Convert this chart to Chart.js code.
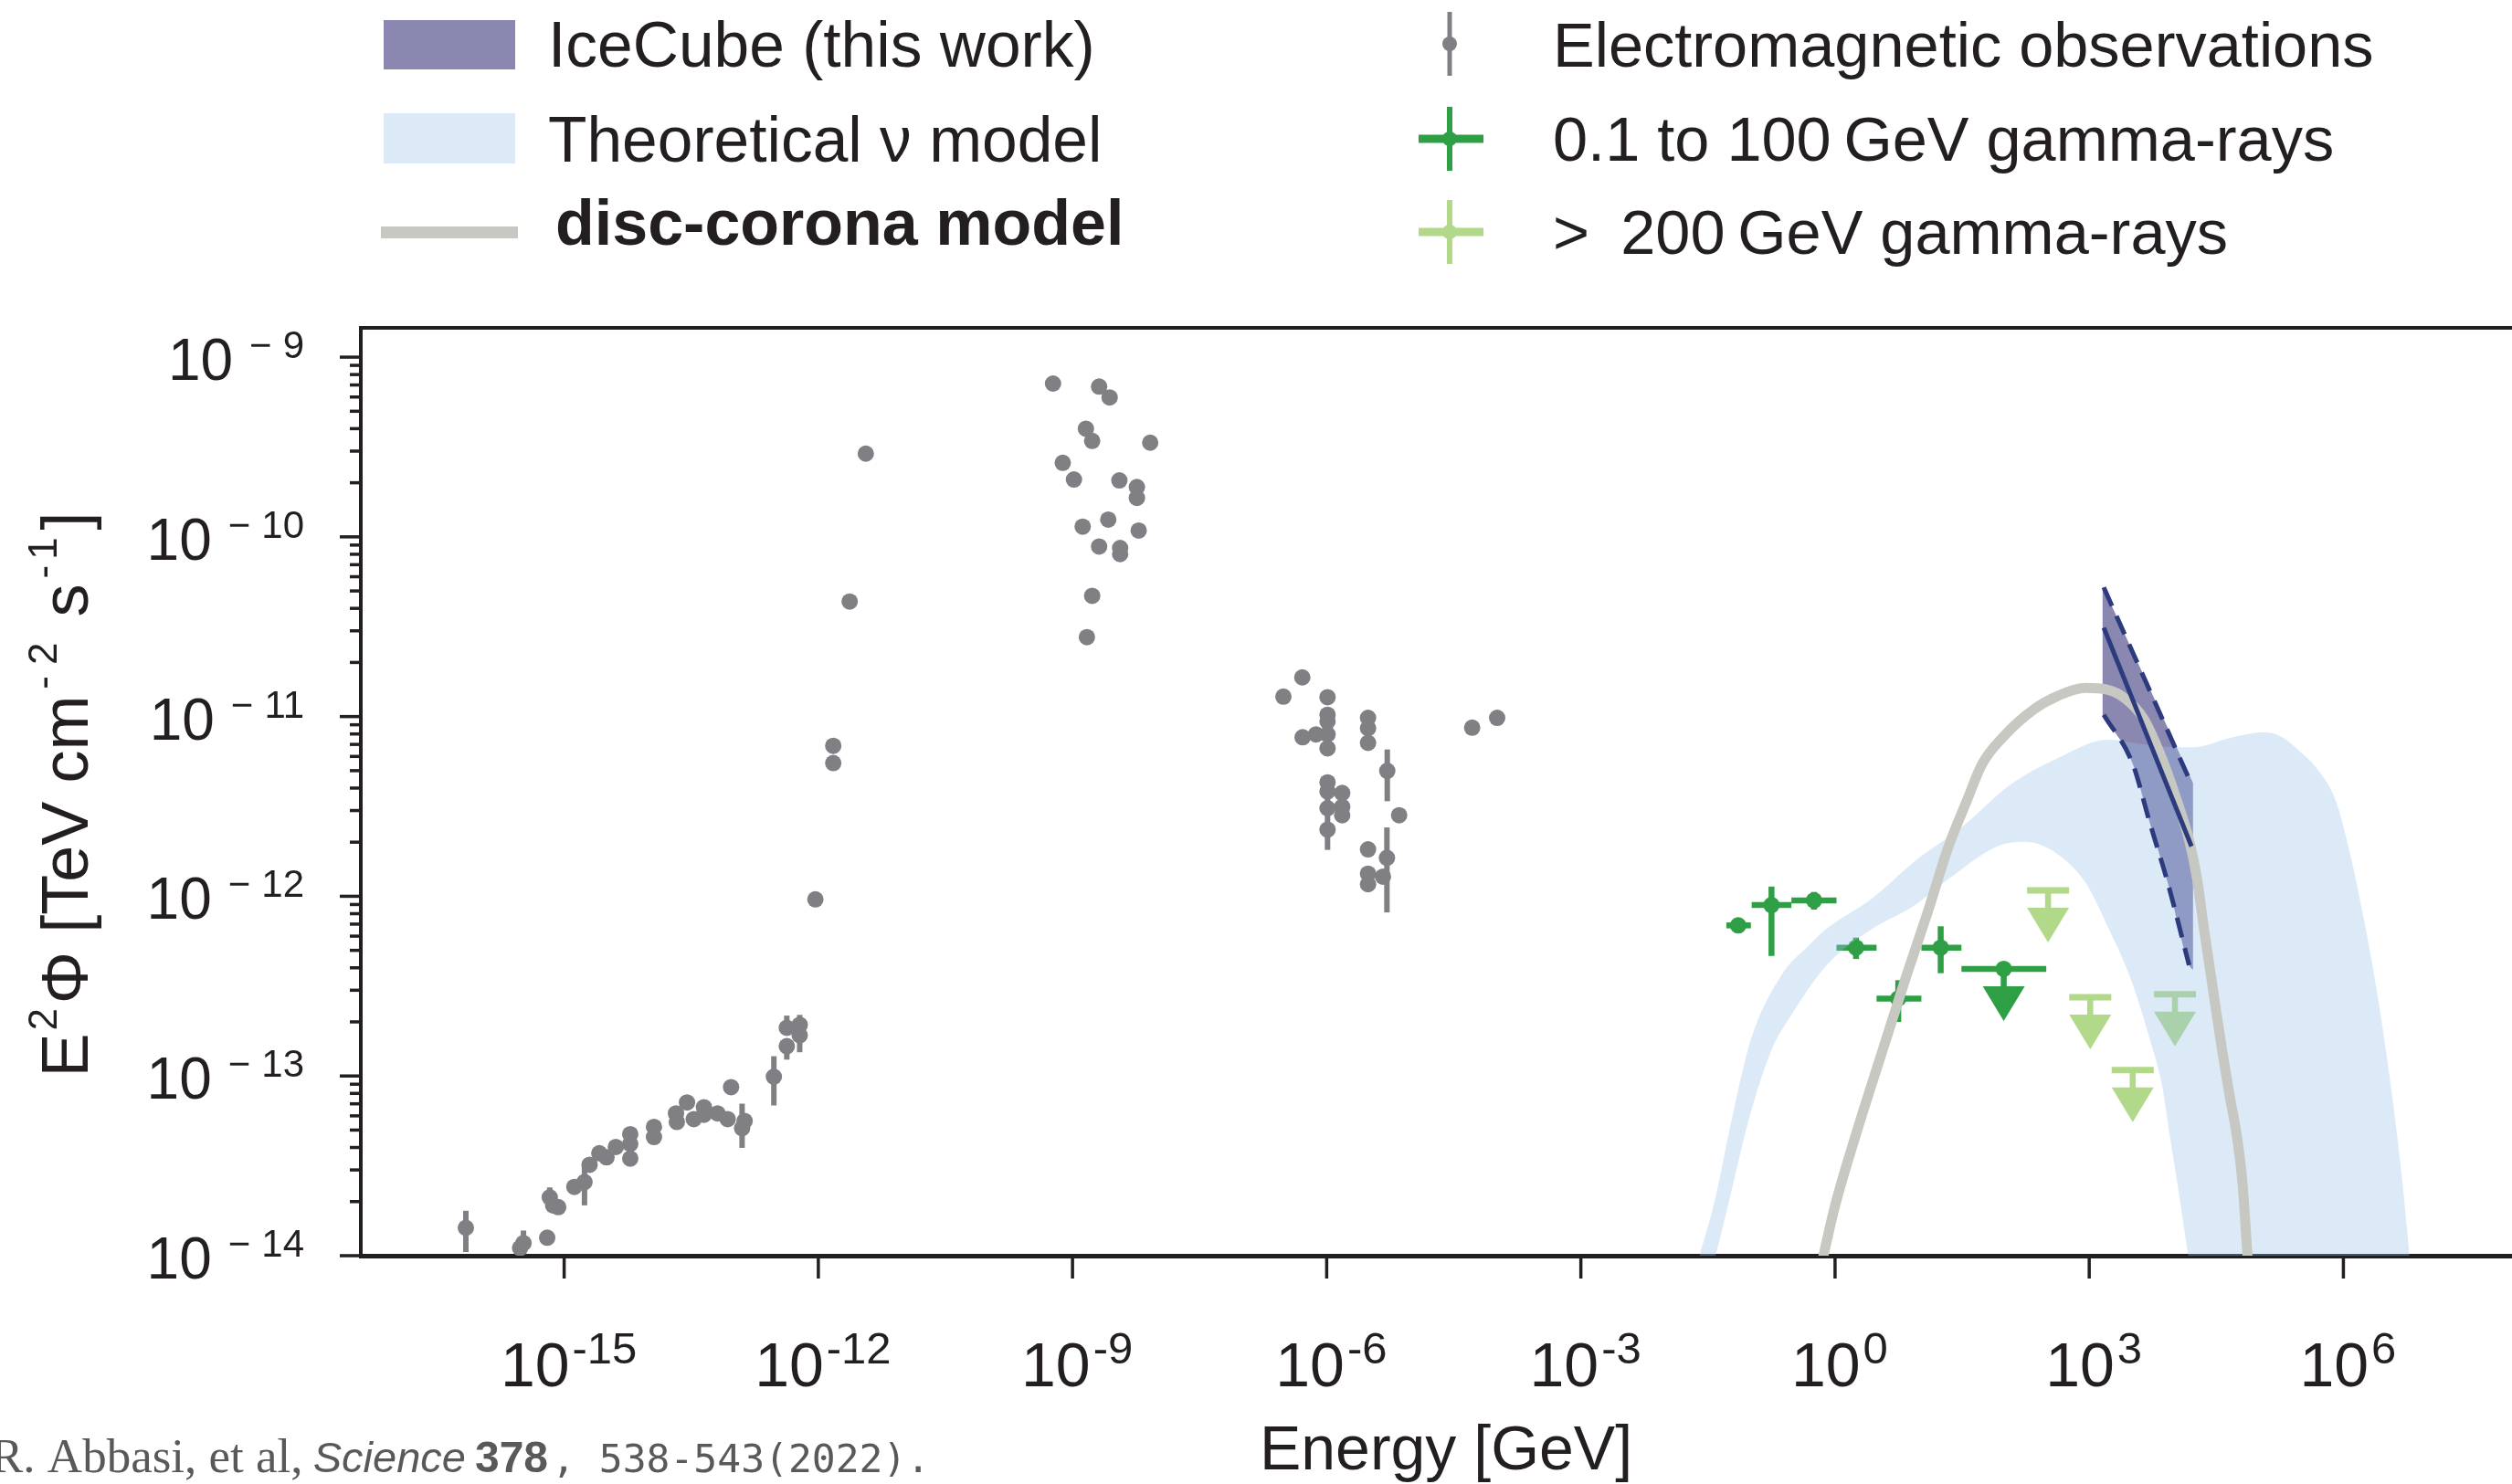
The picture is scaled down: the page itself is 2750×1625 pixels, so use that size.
<!DOCTYPE html>
<html lang="en">
<head>
<meta charset="utf-8">
<title>Energy spectrum – IceCube neutrinos and electromagnetic data</title>
<script src="https://cdn.jsdelivr.net/npm/chart.js@4.4.1/dist/chart.umd.min.js"></script>
<style>
  html, body { margin: 0; padding: 0; background: #ffffff; overflow: hidden; }
  #frame { position: relative; width: 2750px; height: 1625px; }
  canvas { display: block; }
</style>
</head>
<body>
<div id="frame"><canvas id="sed" width="2750" height="1625"></canvas></div>
<script>
// All values are log10: energy in GeV, E^2 Phi in TeV cm^-2 s^-1.

// Electromagnetic observations (radio to X-ray); error bounds are null where no bar is drawn
const emLogE = [-16.16, -15.48, -15.52, -15.20, -15.17, -15.13, -15.07, -14.88, -14.76, -14.70,
  -14.585, -14.50, -14.39, -14.22, -14.22, -14.22, -13.94, -13.94, -13.68, -13.67,
  -13.55, -13.47, -13.35, -13.35, -13.19, -13.07, -13.03, -12.90, -12.87, -12.525,
  -12.372, -12.372, -12.22, -12.22, -12.035, -11.824, -11.824, -11.63, -11.44,
  -9.23, -8.686, -8.562, -8.842, -8.768, -8.083, -9.115, -8.983, -8.447, -8.24,
  -8.24, -8.88, -8.578, -8.219, -8.686, -8.438, -8.438, -8.768, -8.83,
  -6.288, -6.511, -5.99, -5.99, -5.99, -6.284, -6.126, -5.99, -5.99, -5.512,
  -5.512, -5.512, -5.285, -5.145, -5.99, -5.99, -5.817, -5.99, -5.817, -5.817,
  -5.99, -5.512, -5.289, -5.512, -5.336, -5.512, -4.283, -3.988];
const emLogF = [-13.845, -13.93, -13.957, -13.90, -13.675, -13.72, -13.73, -13.617, -13.59, -13.494,
  -13.43, -13.453, -13.395, -13.324, -13.378, -13.46, -13.283, -13.34, -13.208, -13.256,
  -13.147, -13.24, -13.174, -13.216, -13.208, -13.24, -13.062, -13.29, -13.25, -13.004,
  -12.732, -12.834, -12.715, -12.773, -12.017, -11.163, -11.259, -10.36, -9.537,
  -9.147, -9.164, -9.224, -9.398, -9.466, -9.476, -9.588, -9.681, -9.686, -9.723,
  -9.783, -9.943, -9.904, -9.965, -10.054, -10.062, -10.096, -10.328, -10.558,
  -10.782, -10.889, -10.892, -10.99, -11.027, -11.115, -11.099, -11.099, -11.177, -11.007,
  -11.065, -11.146, -11.302, -11.549, -11.366, -11.417, -11.425, -11.51, -11.502, -11.549,
  -11.629, -11.739, -11.786, -11.874, -11.891, -11.933, -11.062, -11.007];
const emErrLo = [-13.98, -13.99, null, null, -13.73, null, null, null, -13.72, null,
  null, null, null, null, null, null, null, null, null, null,
  null, null, null, null, null, null, null, -13.40, null, -13.164,
  -12.77, -12.909, -12.74, -12.868, null, null, null, null, null,
  null, null, null, null, null, null, null, null, null, null,
  null, null, null, null, null, null, null, null, null,
  null, null, null, null, null, null, null, null, null, null,
  null, null, -11.471, null, null, null, null, null, null, null,
  -11.742, null, -12.09, null, null, null, null, null];
const emErrHi = [-13.75, -13.86, null, null, -13.62, null, null, null, -13.505, null,
  null, null, null, null, null, null, null, null, null, null,
  null, null, null, null, null, null, null, -13.154, null, -12.89,
  -12.664, -12.80, -12.66, -12.80, null, null, null, null, null,
  null, null, null, null, null, null, null, null, null, null,
  null, null, null, null, null, null, null, null, null,
  null, null, null, null, null, null, null, null, null, null,
  null, null, -11.183, null, null, null, null, null, null, null,
  -11.40, null, -11.617, null, null, null, null, null];

// 0.1 to 100 GeV gamma-rays: measured bins
const fermiLogE   = [-1.143, -0.75, -0.248, 0.248, 0.746, 1.247];
const fermiLogF   = [-12.162, -12.049, -12.023, -12.286, -12.569, -12.286];
const fermiLogElo = [-1.283, -0.984, -0.515, 0.017, 0.49, 1.019];
const fermiLogEhi = [-0.993, -0.515, 0.017, 0.49, 1.019, 1.492];
const fermiLogFlo = [null, -12.332, -12.074, -12.349, -12.699, -12.428];
const fermiLogFhi = [null, -11.946, -11.976, -12.23, -12.467, -12.167];
// 0.1 to 100 GeV gamma-rays: upper-limit bin
const fermiUlLogE   = [1.991];
const fermiUlLogF   = [-12.404];
const fermiUlLogElo = [1.492];
const fermiUlLogEhi = [2.493];

// > 200 GeV gamma-rays: upper limits
const tevUlLogE = [2.514, 3.012, 3.513, 4.012];
const tevUlLogF = [-11.967, -12.562, -12.967, -12.545];

// IceCube best fit and 68% contour
const iceBestLogE  = [3.172, 4.207];
const iceBestLogF  = [-10.506, -11.722];
const iceUpperLogE = [3.172, 4.197];
const iceUpperLogF = [-10.282, -11.366];
const iceLowerLogE = [3.172, 3.514, 3.712, 3.927, 4.179];
const iceLowerLogF = [-10.99, -11.264, -11.586, -11.925, -12.383];
const iceBandTopLogE = [3.155, 4.226];
const iceBandTopLogF = [-10.27, -11.37];
const iceBandBotLogE = [3.155, 3.514, 3.712, 3.927, 4.179, 4.226];
const iceBandBotLogF = [-10.99, -11.264, -11.586, -11.925, -12.383, -12.41];

// Theoretical neutrino model band
const nuTopLogE = [-1.60, -1.423, -1.225, -0.999, -0.633, -0.30, -0.097, 0.442, 0.981, 1.484,
  2.059, 2.634, 3.209, 3.783, 4.215, 4.718, 5.077, 5.287, 5.50, 5.681,
  5.907, 6.076, 6.245, 6.414, 6.584, 6.696, 6.78];
const nuTopLogF = [-14.0, -13.70, -13.254, -12.806, -12.44, -12.27, -12.18, -12.01, -11.79, -11.62,
  -11.383, -11.231, -11.129, -11.163, -11.171, -11.112, -11.087, -11.118, -11.20, -11.286,
  -11.464, -11.756, -12.136, -12.583, -13.142, -13.589, -14.0];
const nuBotLogE = [-1.60, -1.41, -1.253, -0.999, -0.746, -0.528, -0.097, 0.442, 0.909, 1.377,
  1.915, 2.239, 2.598, 2.957, 3.245, 3.496, 3.711, 3.856, 3.945, 4.074,
  4.17, 4.30, 6.78];
const nuBotLogF = [-14.3, -14.0, -13.70, -13.21, -12.851, -12.67, -12.383, -12.18, -12.06, -11.891,
  -11.722, -11.697, -11.756, -11.925, -12.196, -12.467, -12.789, -13.043, -13.314, -13.70,
  -14.0, -14.3, -14.3];

// Disc-corona model
const coronaLogE = [-0.16, -0.013, 0.237, 0.55, 0.837, 1.089, 1.34, 1.556, 1.735, 1.987,
  2.347, 2.634, 2.957, 3.209, 3.425, 3.64, 3.856, 4.035, 4.179, 4.269,
  4.359, 4.466, 4.574, 4.664, 4.736, 4.808, 4.868, 4.875];
const coronaLogF = [-14.05, -13.746, -13.34, -12.874, -12.45, -12.095, -11.722, -11.468, -11.265, -11.112,
  -10.96, -10.884, -10.841, -10.85, -10.9, -11.01, -11.231, -11.468, -11.688, -11.891,
  -12.196, -12.535, -12.874, -13.128, -13.314, -13.589, -14.0, -14.05];

// Axis ranges and tick decades
const xRangeExp = [-17.40, 7.99];
const yRangeExp = [-14, -8.837];
const xTickExps = [-15, -12, -9, -6, -3, 0, 3, 6];
const yTickExps = [-14, -13, -12, -11, -10, -9];

// ---- Styling ----
const INK = '#231f20';
const EM_GREY = '#808084';
const FERMI_GREEN = '#2e9f45';
const TEV_GREEN = '#b2d98a';
const NAVY = '#2b3b7e';
const ICE_FILL = '#8a87b0';
const NU_FILL = 'rgba(152,193,234,0.34)';
const CORONA = '#c8c8c2';
const SANS = '"Liberation Sans", Arial, Helvetica, sans-serif';

const pts = (le, lf) => le.map((e, i) => ({ x: 10 ** e, y: 10 ** lf[i] }));

const curve = (data, extra) => Object.assign({
  data, showLine: true, pointRadius: 0, borderWidth: 0, fill: false, clip: 0,
  borderJoinStyle: 'round', cubicInterpolationMode: 'monotone'
}, extra);

const dots = (data, color, order) => ({
  data, showLine: false, pointRadius: 9, pointHoverRadius: 9, pointBorderWidth: 0,
  pointBackgroundColor: color, backgroundColor: color, borderColor: color, order
});

// Error bars and upper-limit arrows, drawn beneath the datasets
function drawArrow(ctx, x, y, color) {
  ctx.strokeStyle = color;
  ctx.lineWidth = 6.5;
  ctx.beginPath(); ctx.moveTo(x, y); ctx.lineTo(x, y + 21); ctx.stroke();
  ctx.fillStyle = color;
  ctx.beginPath();
  ctx.moveTo(x - 23, y + 19); ctx.lineTo(x + 23, y + 19); ctx.lineTo(x, y + 57);
  ctx.closePath(); ctx.fill();
}

const errorBarPlugin = {
  id: 'errorBars',
  beforeDatasetsDraw(chart) {
    const { ctx, chartArea: a, scales: { x: sx, y: sy } } = chart;
    const X = e => sx.getPixelForValue(10 ** e);
    const Y = f => sy.getPixelForValue(10 ** f);
    const seg = (x1, y1, x2, y2) => { ctx.beginPath(); ctx.moveTo(x1, y1); ctx.lineTo(x2, y2); ctx.stroke(); };
    ctx.save();
    ctx.beginPath(); ctx.rect(a.left, a.top, a.right - a.left, a.bottom - a.top); ctx.clip();
    ctx.lineCap = 'butt';

    ctx.strokeStyle = EM_GREY; ctx.lineWidth = 6;
    emLogE.forEach((e, i) => {
      if (emErrLo[i] !== null) seg(X(e), Y(emErrLo[i]), X(e), Y(emErrHi[i]));
    });

    ctx.strokeStyle = FERMI_GREEN; ctx.lineWidth = 6.5;
    fermiLogE.forEach((e, i) => {
      const y = Y(fermiLogF[i]);
      seg(X(fermiLogElo[i]), y, X(fermiLogEhi[i]), y);
      if (fermiLogFlo[i] !== null) seg(X(e), Y(fermiLogFlo[i]), X(e), Y(fermiLogFhi[i]));
    });
    fermiUlLogE.forEach((e, i) => {
      const y = Y(fermiUlLogF[i]);
      ctx.strokeStyle = FERMI_GREEN; ctx.lineWidth = 6.5;
      seg(X(fermiUlLogElo[i]), y, X(fermiUlLogEhi[i]), y);
      drawArrow(ctx, X(e), y, FERMI_GREEN);
    });

    tevUlLogE.forEach((e, i) => {
      const x = X(e), y = Y(tevUlLogF[i]);
      ctx.strokeStyle = TEV_GREEN; ctx.lineWidth = 7;
      seg(x - 23, y, x + 23, y);
      drawArrow(ctx, x, y, TEV_GREEN);
    });
    ctx.restore();
  }
};

// Text helpers: runs of text with optional superscript offsets
function runsWidth(ctx, runs) {
  let w = 0;
  for (const r of runs) { ctx.font = r.font; w += (r.dx || 0) + ctx.measureText(r.text).width; }
  return w;
}
function drawRuns(ctx, runs, x, y) {
  let cx = x;
  for (const r of runs) {
    ctx.font = r.font;
    cx += (r.dx || 0);
    ctx.fillText(r.text, cx, y + (r.dy || 0));
    cx += ctx.measureText(r.text).width;
  }
}

// Ticks, tick labels, frame, axis titles and the source line
const axisPlugin = {
  id: 'axisDecor',
  afterDraw(chart) {
    const { ctx, chartArea: a, scales: { x: sx, y: sy } } = chart;
    ctx.save();
    ctx.strokeStyle = INK; ctx.fillStyle = INK;
    ctx.textBaseline = 'alphabetic'; ctx.textAlign = 'left';

    // top frame line
    ctx.lineWidth = 4;
    ctx.beginPath(); ctx.moveTo(a.left - 2, a.top); ctx.lineTo(a.right, a.top); ctx.stroke();

    // x ticks and labels
    ctx.lineWidth = 3.5;
    sx.ticks.forEach(t => {
      const x = sx.getPixelForValue(t.value);
      ctx.beginPath(); ctx.moveTo(x, a.bottom); ctx.lineTo(x, a.bottom + 25); ctx.stroke();
      const ex = Math.round(Math.log10(t.value));
      const runs = [
        { text: '10', font: `68px ${SANS}` },
        { text: ex < 0 ? '-' + Math.abs(ex) : String(ex), font: `49px ${SANS}`, dy: -25, dx: 3 }
      ];
      drawRuns(ctx, runs, x + 5 - runsWidth(ctx, runs) / 2, a.bottom + 143);
    });

    // y ticks (major and minor) and labels
    sy.ticks.forEach(t => {
      const y = sy.getPixelForValue(t.value);
      const len = t.major ? 23 : 12;
      ctx.lineWidth = 3.5;
      ctx.beginPath(); ctx.moveTo(a.left - len, y); ctx.lineTo(a.left, y); ctx.stroke();
      if (t.major) {
        const ex = Math.round(Math.log10(t.value));
        const runs = [
          { text: '10', font: `64px ${SANS}` },
          { text: '\u2212', font: `42px ${SANS}`, dy: -24, dx: 18 },
          { text: String(Math.abs(ex)), font: `42px ${SANS}`, dy: -24, dx: 12 }
        ];
        drawRuns(ctx, runs, 333 - runsWidth(ctx, runs), y + 25);
      }
    });

    // x title
    ctx.font = `68px ${SANS}`;
    ctx.textAlign = 'center';
    ctx.fillText('Energy [GeV]', 1583, 1609);
    ctx.textAlign = 'left';

    // y title (rotated)
    const F72 = `72px ${SANS}`, F44 = `44px ${SANS}`;
    const ytitle = [
      { text: 'E', font: F72 },
      { text: '2', font: F44, dy: -34, dx: 3 },
      { text: '\u03A6 [TeV cm', font: F72, dx: 5 },
      { text: '-', font: F44, dy: -34, dx: 7 },
      { text: '2', font: F44, dy: -34, dx: 12 },
      { text: ' s', font: F72, dx: 8 },
      { text: '-', font: F44, dy: -34, dx: 6 },
      { text: '1', font: F44, dy: -34, dx: 6 },
      { text: ']', font: F72, dx: 8 }
    ];
    ctx.save();
    ctx.translate(96, 870);
    ctx.rotate(-Math.PI / 2);
    drawRuns(ctx, ytitle, -runsWidth(ctx, ytitle) / 2, 0);
    ctx.restore();

    // source line
    ctx.fillStyle = '#58595b';
    drawRuns(ctx, [
      { text: 'R. Abbasi, et al, ', font: `53px "Liberation Serif", "Times New Roman", serif` },
      { text: 'Science', font: `italic 47px ${SANS}`, dx: -2 },
      { text: '378', font: `bold 48px ${SANS}`, dx: 10 },
      { text: ', 538-543(2022).', font: `43px "DejaVu Sans Mono", monospace`, dx: 4 }
    ], -10, 1612);
    ctx.restore();
  }
};

// Legend in two columns above the plot
const legendPlugin = {
  id: 'legendBlock',
  afterDraw(chart) {
    const { ctx } = chart;
    ctx.save();
    ctx.textBaseline = 'alphabetic'; ctx.textAlign = 'left';

    ctx.fillStyle = ICE_FILL; ctx.fillRect(420, 22, 144, 54);
    ctx.fillStyle = NU_FILL; ctx.fillRect(420, 124, 144, 55);
    ctx.strokeStyle = CORONA; ctx.lineWidth = 13; ctx.lineCap = 'butt';
    ctx.beginPath(); ctx.moveTo(417, 254.5); ctx.lineTo(567, 254.5); ctx.stroke();

    ctx.fillStyle = INK;
    ctx.font = `69.5px ${SANS}`;
    ctx.fillText('IceCube (this work)', 600, 73);
    ctx.fillText('Theoretical \u03BD model', 600, 177);
    ctx.font = `bold 70px ${SANS}`;
    ctx.fillText('disc-corona model', 608, 268);

    const mark = (cy, color, cross) => {
      ctx.strokeStyle = color; ctx.fillStyle = color;
      ctx.lineWidth = cross ? 6 : 5;
      ctx.beginPath(); ctx.moveTo(1587, cy - 35); ctx.lineTo(1587, cy + 35); ctx.stroke();
      if (cross) {
        ctx.lineWidth = 9;
        ctx.beginPath(); ctx.moveTo(1553, cy); ctx.lineTo(1624, cy); ctx.stroke();
      }
      ctx.beginPath(); ctx.arc(1587, cy, 8, 0, Math.PI * 2); ctx.fill();
    };
    mark(48, EM_GREY, false);
    mark(152, FERMI_GREEN, true);
    mark(254, TEV_GREEN, true);

    ctx.fillStyle = INK;
    ctx.font = `68.5px ${SANS}`;
    ctx.fillText('Electromagnetic observations', 1700, 73);
    ctx.fillText('0.1 to 100\u2009GeV gamma-rays', 1700, 176);
    ctx.fillText('>\u2002200\u2009GeV gamma-rays', 1700, 278);
    ctx.restore();
  }
};

const minorTicks = [];
yTickExps.forEach((e, k) => {
  minorTicks.push({ value: 10 ** e, major: true });
  if (k < yTickExps.length - 1) for (let m = 2; m <= 9; m++) minorTicks.push({ value: m * 10 ** e, major: false });
});

new Chart(document.getElementById('sed'), {
  type: 'line',
  data: {
    datasets: [
      // 0-2: IceCube lines
      curve(pts(iceBestLogE, iceBestLogF), { borderColor: NAVY, borderWidth: 5, order: 0, cubicInterpolationMode: 'default' }),
      curve(pts(iceUpperLogE, iceUpperLogF), { borderColor: NAVY, borderWidth: 5, borderDash: [22, 12], order: 0, cubicInterpolationMode: 'default' }),
      curve(pts(iceLowerLogE, iceLowerLogF), { borderColor: NAVY, borderWidth: 5, borderDash: [22, 12], order: 0 }),
      // 3: disc-corona model
      curve(pts(coronaLogE, coronaLogF), { borderColor: CORONA, borderWidth: 11, order: 1 }),
      // 4-5: theoretical neutrino band
      curve(pts(nuTopLogE, nuTopLogF), { fill: '+1', backgroundColor: NU_FILL, order: 2 }),
      curve(pts(nuBotLogE, nuBotLogF), { order: 3 }),
      // 6-7: gamma-ray points
      dots(pts(fermiLogE, fermiLogF), FERMI_GREEN, 4),
      dots(pts(fermiUlLogE, fermiUlLogF), FERMI_GREEN, 4),
      // 8-9: IceCube contour fill
      curve(pts(iceBandTopLogE, iceBandTopLogF), { fill: '+1', backgroundColor: ICE_FILL, order: 5, cubicInterpolationMode: 'default' }),
      curve(pts(iceBandBotLogE, iceBandBotLogF), { order: 6 }),
      // 10: electromagnetic observations
      dots(pts(emLogE, emLogF), EM_GREY, 7)
    ]
  },
  options: {
    responsive: false,
    animation: false,
    devicePixelRatio: 1,
    events: [],
    layout: { padding: { left: 395, top: 359, right: 0, bottom: 250 }, autoPadding: false },
    plugins: { legend: { display: false }, tooltip: { enabled: false }, title: { display: false } },
    scales: {
      x: {
        type: 'logarithmic', z: 1,
        min: 10 ** xRangeExp[0], max: 10 ** xRangeExp[1],
        grid: { display: false, drawTicks: false, tickLength: 0 }, ticks: { display: false },
        border: { display: true, color: INK, width: 5 },
        afterBuildTicks: s => { s.ticks = xTickExps.map(e => ({ value: 10 ** e, major: true })); }
      },
      y: {
        type: 'logarithmic', z: 1,
        min: 10 ** yRangeExp[0], max: 10 ** yRangeExp[1],
        grid: { display: false, drawTicks: false, tickLength: 0 }, ticks: { display: false },
        border: { display: true, color: INK, width: 4 },
        afterBuildTicks: s => { s.ticks = minorTicks.slice(); }
      }
    }
  },
  plugins: [errorBarPlugin, axisPlugin, legendPlugin]
});
</script>
</body>
</html>
